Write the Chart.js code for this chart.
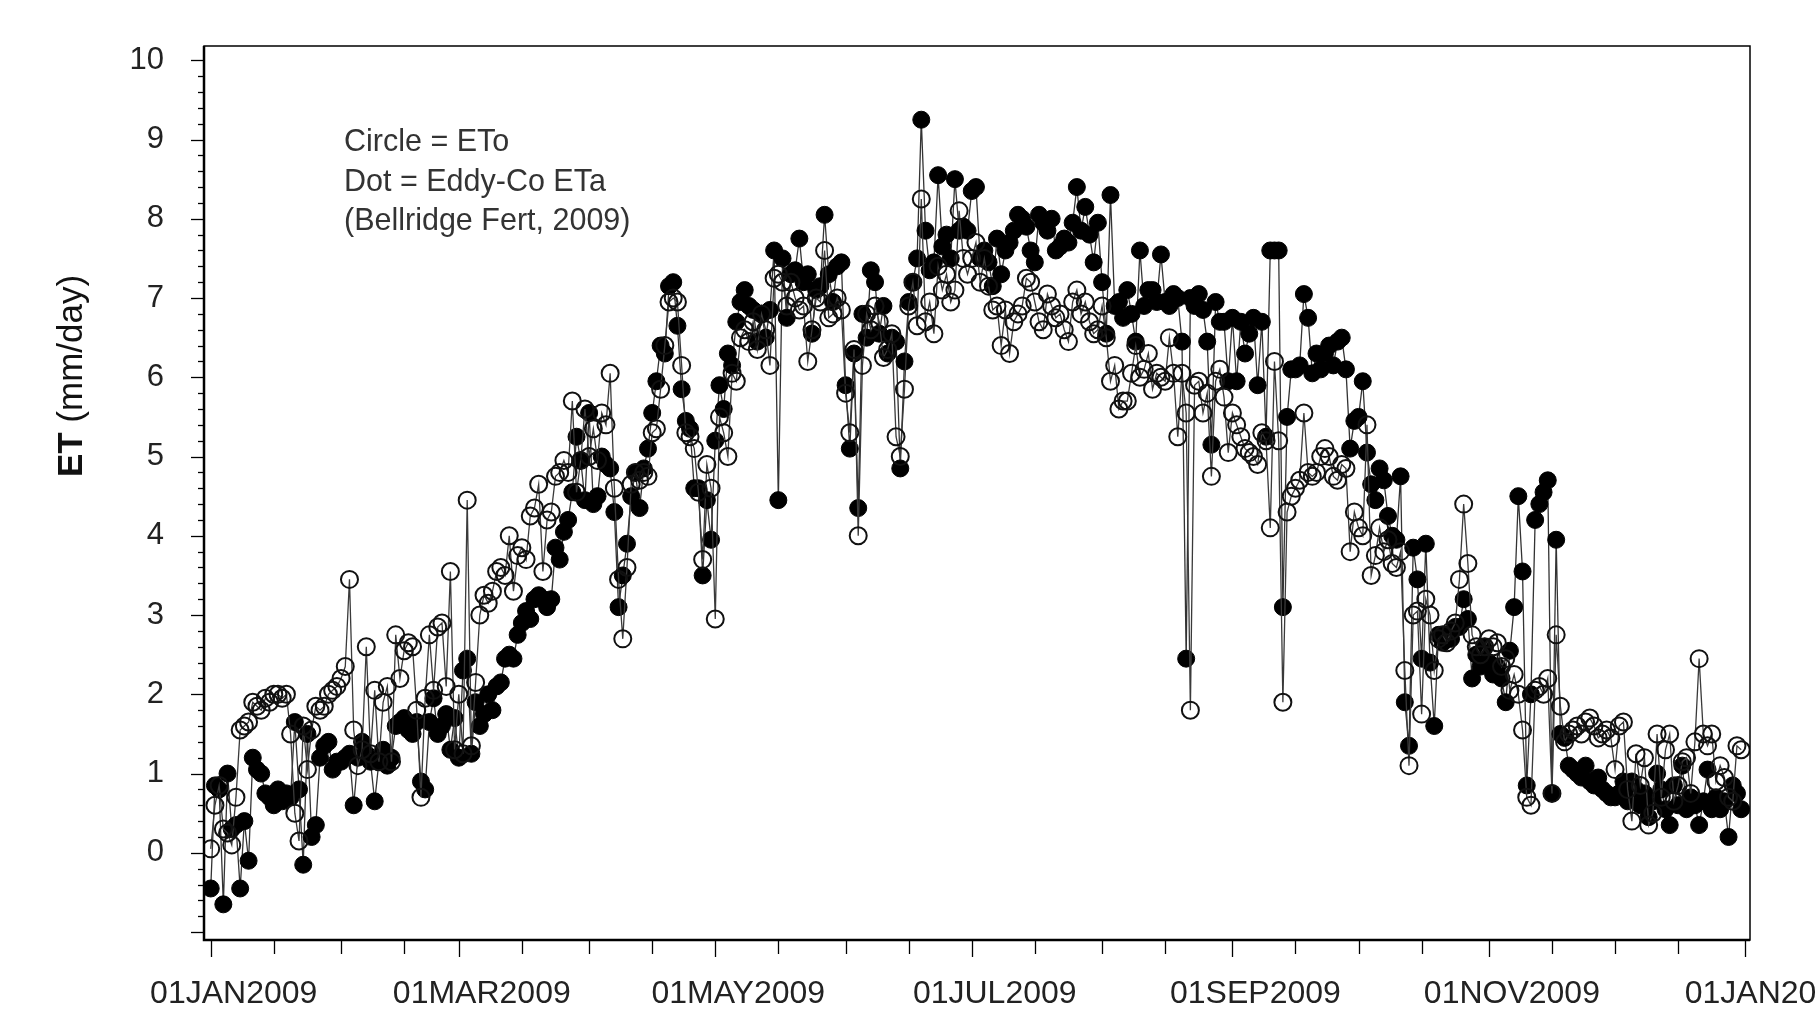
<!DOCTYPE html>
<html>
<head>
<meta charset="utf-8">
<title>ET 2009</title>
<script src="https://cdn.jsdelivr.net/npm/chart.js@4.4.1/dist/chart.umd.min.js"></script>
<style>
  html, body { margin: 0; padding: 0; background: #fff; overflow: hidden; }
  canvas { display: block; }
</style>
</head>
<body>
<canvas id="c" width="1815" height="1017"></canvas>
<script>
// ETo (open circles), mm/day, one value per day, by month
const etoJan = [0.05,0.6,0.85,0.3,0.25,0.1,0.7,1.55,1.6,1.65,1.9,1.85,1.8,1.95,1.9,2.0,2.0,1.95,2.0,1.5,0.5,0.15,1.6,1.05,1.55,1.85,1.8,1.85,2.0,2.05,2.1];
const etoFeb = [2.2,2.35,3.45,1.55,1.1,1.3,2.6,1.25,2.05,1.15,1.9,2.1,1.15,2.75,2.2,2.55,2.65,2.6,1.8,0.7,1.95,2.75,2.05,2.85,2.9,2.1,3.55,1.3];
const etoMar = [2.0,1.25,4.45,1.35,2.15,3.0,3.25,3.15,3.3,3.55,3.6,3.5,4.0,3.3,3.75,3.85,3.7,4.25,4.35,4.65,3.55,4.2,4.3,4.75,4.8,4.95,4.8,5.7,4.55,4.95,5.6];
const etoApr = [5.0,5.35,4.95,5.55,5.4,6.05,4.6,3.45,2.7,3.6,4.65,4.8,4.7,4.8,4.75,5.3,5.35,5.85,6.4,6.95,7.0,6.95,6.15,5.3,5.25,5.1,4.55,3.7,4.9,4.6];
const etoMay = [2.95,5.5,5.3,5.0,6.05,5.95,6.5,6.6,6.45,6.7,6.35,6.8,6.6,6.15,7.25,7.3,7.2,6.9,7.2,7.0,6.85,6.9,6.2,6.6,7.0,6.95,7.6,6.75,6.8,7.0,6.85];
const etoJun = [5.8,5.3,6.35,4.0,6.15,6.8,6.6,6.9,6.7,6.25,6.35,6.55,5.25,5.0,5.85,6.9,7.2,6.65,8.25,6.7,6.95,6.55,7.4,7.1,7.3,6.95,7.1,8.1,7.5,7.3];
const etoJul = [7.5,7.7,7.2,7.5,7.15,6.85,6.9,6.4,6.85,6.3,6.7,6.8,6.9,7.25,7.2,6.95,6.7,6.6,7.05,6.9,6.75,6.8,6.6,6.45,6.95,7.1,6.8,6.95,6.7,6.55,6.6];
const etoAug = [6.9,6.5,5.95,6.15,5.6,5.7,5.7,6.05,6.4,6.0,6.1,6.3,5.85,6.05,6.0,5.95,6.5,6.05,5.25,6.05,5.55,1.8,5.9,5.95,5.55,5.8,4.75,5.95,6.1,5.75,5.05];
const etoSep = [5.55,5.4,5.25,5.1,5.05,5.0,4.9,5.3,5.2,4.1,6.2,5.2,1.9,4.3,4.5,4.6,4.7,5.55,4.8,4.75,4.8,5.0,5.1,5.0,4.75,4.7,4.9,4.85,3.8,4.3];
const etoOct = [4.1,4.0,5.4,3.5,3.75,4.1,3.8,3.95,3.65,3.6,3.8,2.3,1.1,3.0,3.05,1.75,3.2,3.0,2.3,2.7,2.75,2.65,2.8,2.9,3.45,4.4,3.65,2.75,2.6,2.5,2.6];
const etoNov = [2.7,2.6,2.65,2.35,2.45,2.05,2.25,2.0,1.55,0.7,0.6,2.05,2.1,2.0,2.2,0.75,2.75,1.85,1.4,1.5,1.55,1.6,1.5,1.65,1.7,1.6,1.45,1.5,1.55,1.45];
const etoDec = [1.05,1.6,1.65,0.8,0.4,1.25,0.85,1.2,0.35,0.5,1.5,0.7,1.3,1.5,0.65,0.85,1.15,1.2,0.75,1.4,2.45,1.5,1.35,1.5,0.9,1.1,0.95,0.7,0.65,1.35,1.3];

// Eddy-Co ETa (filled dots)
const etaJan = [-0.45,0.85,0.8,-0.65,1.0,0.3,0.35,-0.45,0.4,-0.1,1.2,1.05,1.0,0.75,0.7,0.6,0.8,0.65,0.75,0.7,1.65,0.8,-0.15,1.5,0.2,0.35,1.2,1.35,1.4,1.05,1.15];
const etaFeb = [1.15,1.2,1.25,0.6,1.2,1.4,1.25,1.15,0.65,1.15,1.3,1.1,1.2,1.6,1.65,1.7,1.55,1.5,1.65,0.9,0.8,1.65,1.95,1.5,1.6,1.75,1.3,1.7];
const etaMar = [1.2,2.3,2.45,1.25,1.9,1.6,1.75,2.0,1.8,2.1,2.15,2.45,2.5,2.45,2.75,2.9,3.05,2.95,3.2,3.25,3.2,3.1,3.2,3.85,3.7,4.05,4.2,4.55,5.25,4.95,4.45];
const etaApr = [5.55,4.4,4.5,5.0,4.9,4.85,4.3,3.1,3.5,3.9,4.5,4.8,4.35,4.85,5.1,5.55,5.95,6.4,6.3,7.15,7.2,6.65,5.85,5.45,5.35,4.6,4.6,3.5,4.45,3.95];
const etaMay = [5.2,5.9,5.6,6.3,6.15,6.7,6.95,7.1,6.9,6.85,6.45,6.8,6.5,6.85,7.6,4.45,7.5,6.75,7.3,7.35,7.75,7.2,7.3,6.55,7.1,7.15,8.05,7.3,6.95,7.4,7.45];
const etaJun = [5.9,5.1,6.3,4.35,6.8,6.5,7.35,7.2,6.55,6.9,6.3,6.5,6.45,4.85,6.2,6.95,7.2,7.5,9.25,7.85,7.35,7.45,8.55,7.65,7.8,7.5,8.5,7.85,7.9,7.85];
const etaJul = [8.35,8.4,7.5,7.6,7.45,7.15,7.75,7.3,7.6,7.7,7.85,8.05,8.0,7.9,7.6,7.45,8.05,7.95,7.85,8.0,7.6,7.65,7.75,7.7,7.95,8.4,7.85,8.15,7.8,7.45,7.95];
const etaAug = [7.2,6.55,8.3,6.9,6.95,6.75,7.1,6.8,6.45,7.6,6.9,7.1,7.1,6.95,7.55,6.95,6.9,7.05,7.0,6.45,2.45,7.0,6.9,7.05,6.85,6.45,5.15,6.95,6.7,6.7,5.95];
const etaSep = [6.75,5.95,6.7,6.3,6.55,6.75,5.9,6.7,5.25,7.6,7.6,7.6,3.1,5.5,6.1,6.1,6.15,7.05,6.75,6.05,6.3,6.1,6.3,6.4,6.15,6.45,6.5,6.1,5.1,5.45];
const etaOct = [5.5,5.95,5.05,4.65,4.45,4.85,4.7,4.25,4.0,3.95,4.75,1.9,1.35,3.85,3.45,2.45,3.9,2.4,1.6,2.75,2.65,2.75,2.7,2.85,2.85,3.2,2.95,2.2,2.5,2.35,2.6];
const etaNov = [2.4,2.25,2.35,2.2,1.9,2.55,3.1,4.5,3.55,0.85,2.0,4.2,4.4,4.55,4.7,0.75,3.95,1.5,1.45,1.1,1.05,1.0,0.95,1.1,0.9,0.85,0.95,0.8,0.75,0.7];
const etaDec = [0.7,0.75,0.9,0.65,0.9,0.8,0.6,0.75,0.45,0.65,1.0,0.8,0.55,0.35,0.85,0.6,1.1,0.55,0.7,0.6,0.35,0.65,1.05,0.55,0.7,0.55,0.65,0.2,0.85,0.75,0.55];

// axis: day of year where each month starts (last = 01JAN2010)
const monthStart = [0,31,59,90,120,151,181,212,243,273,304,334,365];
const labelDays = [0,59,120,181,243,304,365];
const tickLabels = ['01JAN2009','01MAR2009','01MAY2009','01JUL2009','01SEP2009','01NOV2009','01JAN2010'];
const yLabels = [0,1,2,3,4,5,6,7,8,9,10];
const noteLines = ['Circle = ETo', 'Dot = Eddy-Co ETa', '(Bellridge Fert, 2009)'];

const FONT = "'Liberation Sans', Arial, sans-serif";

const eto = [].concat(etoJan, etoFeb, etoMar, etoApr, etoMay, etoJun, etoJul, etoAug, etoSep, etoOct, etoNov, etoDec);
const eta = [].concat(etaJan, etaFeb, etaMar, etaApr, etaMay, etaJun, etaJul, etaAug, etaSep, etaOct, etaNov, etaDec);
const toPts = arr => arr.map((v, i) => ({ x: i, y: v }));

// frame, tick marks, note and y title
const frame = {
  id: 'frame',
  afterDraw(chart) {
    const { ctx, chartArea: a, scales: { x, y } } = chart;
    ctx.save();
    ctx.strokeStyle = '#000';

    // tick marks on y (minor every 0.2)
    ctx.lineWidth = 1.3;
    for (let k = -5; k <= 50; k++) {
      const py = Math.round(y.getPixelForValue(k / 5)) + 0.5;
      const len = k % 5 === 0 ? 13 : 6;
      ctx.beginPath();
      ctx.moveTo(a.left, py);
      ctx.lineTo(a.left - len, py);
      ctx.stroke();
    }

    // tick marks on x: 1st and 16th of each month
    const xt = [];
    monthStart.forEach((d, i) => { xt.push(d); if (i < 12) xt.push(d + 15); });
    xt.forEach(d => {
      const px = Math.round(x.getPixelForValue(d)) + 0.5;
      const len = labelDays.includes(d) ? 17 : 14;
      ctx.beginPath();
      ctx.moveTo(px, a.bottom);
      ctx.lineTo(px, a.bottom + len);
      ctx.stroke();
    });

    // box
    ctx.lineWidth = 1.5;
    ctx.strokeRect(a.left, a.top, a.right - a.left, a.bottom - a.top);
    ctx.lineWidth = 2.5;
    ctx.beginPath();
    ctx.moveTo(a.left, a.top);
    ctx.lineTo(a.left, a.bottom);
    ctx.lineTo(a.right, a.bottom);
    ctx.stroke();

    // note text
    ctx.fillStyle = '#333';
    ctx.font = '30.5px ' + FONT;
    ctx.textBaseline = 'middle';
    ctx.textAlign = 'left';
    noteLines.forEach((t, i) => ctx.fillText(t, 344, 143 + i * 39.5));

    // y title: bold "ET" + normal "(mm/day)"
    ctx.translate(72, 376);
    ctx.rotate(-Math.PI / 2);
    ctx.fillStyle = '#111';
    ctx.font = 'bold 35px ' + FONT;
    const w1 = ctx.measureText('ET ').width;
    ctx.font = '35px ' + FONT;
    const w2 = ctx.measureText('(mm/day)').width;
    let sx = -(w1 + w2) / 2;
    ctx.font = 'bold 35px ' + FONT;
    ctx.fillText('ET ', sx, 0);
    ctx.font = '35px ' + FONT;
    ctx.fillText('(mm/day)', sx + w1, 0);
    ctx.restore();
  }
};

new Chart(document.getElementById('c'), {
  type: 'scatter',
  data: {
    datasets: [
      {
        label: 'ETo',
        data: toPts(eto),
        showLine: true,
        borderColor: '#3a3a3a',
        borderWidth: 1.3,
        pointRadius: 8.5,
        pointBorderWidth: 2,
        pointBorderColor: '#111',
        pointBackgroundColor: 'rgba(255,255,255,0)'
      },
      {
        label: 'Eddy-Co ETa',
        data: toPts(eta),
        showLine: true,
        borderColor: '#333',
        borderWidth: 1.3,
        pointRadius: 8.5,
        pointBorderWidth: 1,
        pointBorderColor: '#000',
        pointBackgroundColor: '#000'
      }
    ]
  },
  options: {
    responsive: false,
    animation: false,
    layout: { padding: { top: 46, right: 65, left: 0, bottom: 0 } },
    plugins: { legend: { display: false }, tooltip: { enabled: false } },
    scales: {
      x: {
        type: 'linear',
        min: -1.6,
        max: 366.1,
        grid: { display: false, drawTicks: false },
        border: { display: false },
        afterBuildTicks: s => { s.ticks = labelDays.map(v => ({ value: v })); },
        afterFit: s => { s.height = 77; s.paddingLeft = 0; s.paddingRight = 0; },
        ticks: {
          autoSkip: false,
          maxRotation: 0,
          minRotation: 0,
          padding: 35,
          labelOffset: 23,
          color: '#222',
          font: { family: FONT, size: 32 },
          callback: v => tickLabels[labelDays.indexOf(v)]
        }
      },
      y: {
        min: -1.1,
        max: 10.18,
        grid: { display: false, drawTicks: false },
        border: { display: false },
        afterBuildTicks: s => { s.ticks = yLabels.map(v => ({ value: v })); },
        afterFit: s => { s.width = 204; s.paddingTop = 0; s.paddingBottom = 0; },
        ticks: {
          padding: 40,
          color: '#222',
          font: { family: FONT, size: 31 },
          callback: v => String(v)
        }
      }
    }
  },
  plugins: [frame]
});
</script>
</body>
</html>
